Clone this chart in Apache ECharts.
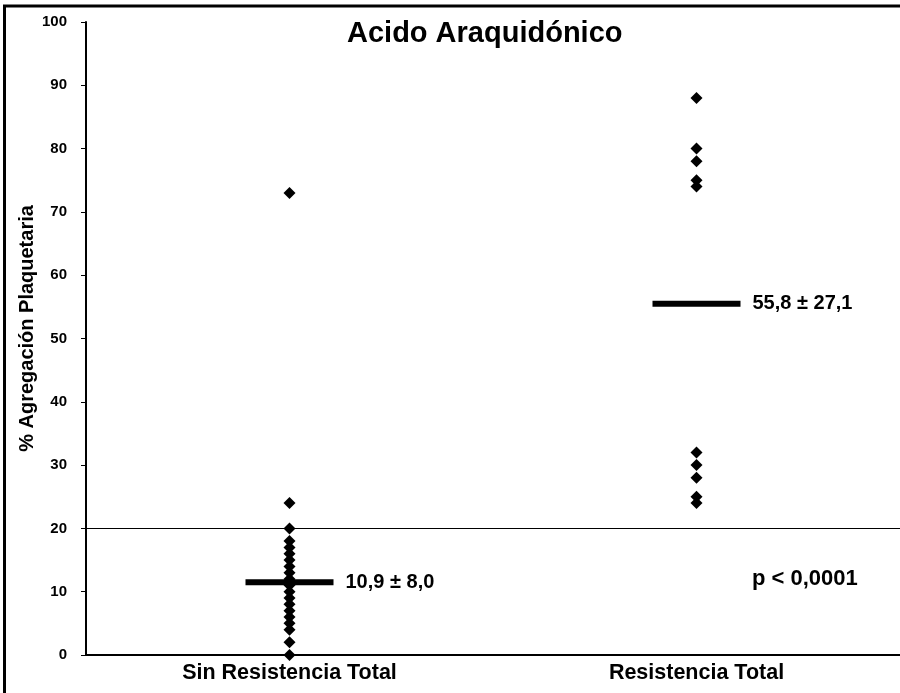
<!DOCTYPE html>
<html><head><meta charset="utf-8">
<script src="https://cdn.jsdelivr.net/npm/echarts@6/dist/echarts.min.js"></script>
<style>html,body{margin:0;padding:0;background:#fff}#c{width:900px;height:693px}</style>
</head><body><div id="c"></div>
<script>
var categories = ["Sin Resistencia Total", "Resistencia Total"];
var sinResistencia = [0, 2, 4, 5, 6, 7, 8, 9, 10, 11, 12, 13, 14, 15, 16, 17, 18, 20, 24, 73];
var resistencia = [24, 25, 28, 30, 32, 74, 75, 78, 80, 88];
var means = [11.5, 55.5];
var meanLabels = ["10,9 \u00b1 8,0", "55,8 \u00b1 27,1"];
var yTicks = [0, 10, 20, 30, 40, 50, 60, 70, 80, 90, 100];
var threshold = 20;
var titleText = "Acido Araquid\u00f3nico";
var yName = "% Agregaci\u00f3n Plaquetaria";
var pText = "p < 0,0001";

var FONT = "'Liberation Sans', Arial, sans-serif";
var pts = [];
sinResistencia.forEach(function(v){ pts.push([0, v]); });
resistencia.forEach(function(v){ pts.push([1, v]); });
var meanData = means.map(function(v, i){ return [i, v]; });

var chart = echarts.init(document.getElementById('c'), null, {renderer: 'canvas'});
chart.setOption({
  animation: false,
  backgroundColor: '#fff',
  title: {text: titleText, left: 342, top: 14,
    textStyle: {fontFamily: FONT, fontWeight: 'bold', fontSize: 29, color: '#000'}},
  grid: {left: 86, top: 22, right: 0, bottom: 38, containLabel: false},
  xAxis: {type: 'category', data: categories, boundaryGap: true,
    axisLine: {lineStyle: {color: '#000', width: 2}},
    axisTick: {show: false},
    axisLabel: {fontFamily: FONT, fontWeight: 'bold', fontSize: 21.5, color: '#000', margin: 7},
    splitLine: {show: false}},
  yAxis: {type: 'value', min: 0, max: 100, interval: 10,
    name: yName, nameLocation: 'middle', nameGap: 49, nameMoveOverlap: false,
    nameTextStyle: {fontFamily: FONT, fontWeight: 'bold', fontSize: 20, color: '#000', padding: [0, 0, 0, 20]},
    axisLine: {show: true, lineStyle: {color: '#000', width: 2}},
    axisTick: {show: true, length: 5, lineStyle: {color: '#000', width: 1}},
    axisLabel: {fontFamily: FONT, fontWeight: 'bold', fontSize: 15, color: '#000', margin: 19,
      formatter: function(v){ return yTicks.indexOf(v) >= 0 ? String(v) : ''; }},
    splitLine: {show: false}},
  series: [
    {type: 'scatter', data: pts, symbol: 'diamond', symbolSize: 12,
      itemStyle: {color: '#000', opacity: 1}, z: 3,
      markLine: {silent: true, symbol: 'none', label: {show: false},
        lineStyle: {color: '#000', width: 1, type: 'solid', opacity: 1},
        data: [{yAxis: threshold}]}},
    {type: 'scatter', data: meanData, symbol: 'rect', symbolSize: [88, 6],
      itemStyle: {color: '#000', opacity: 1}, z: 4,
      label: {show: true, position: 'right', distance: 12, opacity: 1,
        fontFamily: FONT, fontWeight: 'bold', fontSize: 20, color: '#000',
        formatter: function(p){ return meanLabels[p.dataIndex]; }}}
  ],
  graphic: [
    {type: 'rect', shape: {x: 4.5, y: 6, width: 1000, height: 1000},
      style: {fill: 'none', stroke: '#000', lineWidth: 3}, z: 10},
    {type: 'text', left: 752, top: 568,
      style: {text: pText, font: 'bold 22px ' + FONT, fill: '#000'}}
  ]
});
</script></body></html>
